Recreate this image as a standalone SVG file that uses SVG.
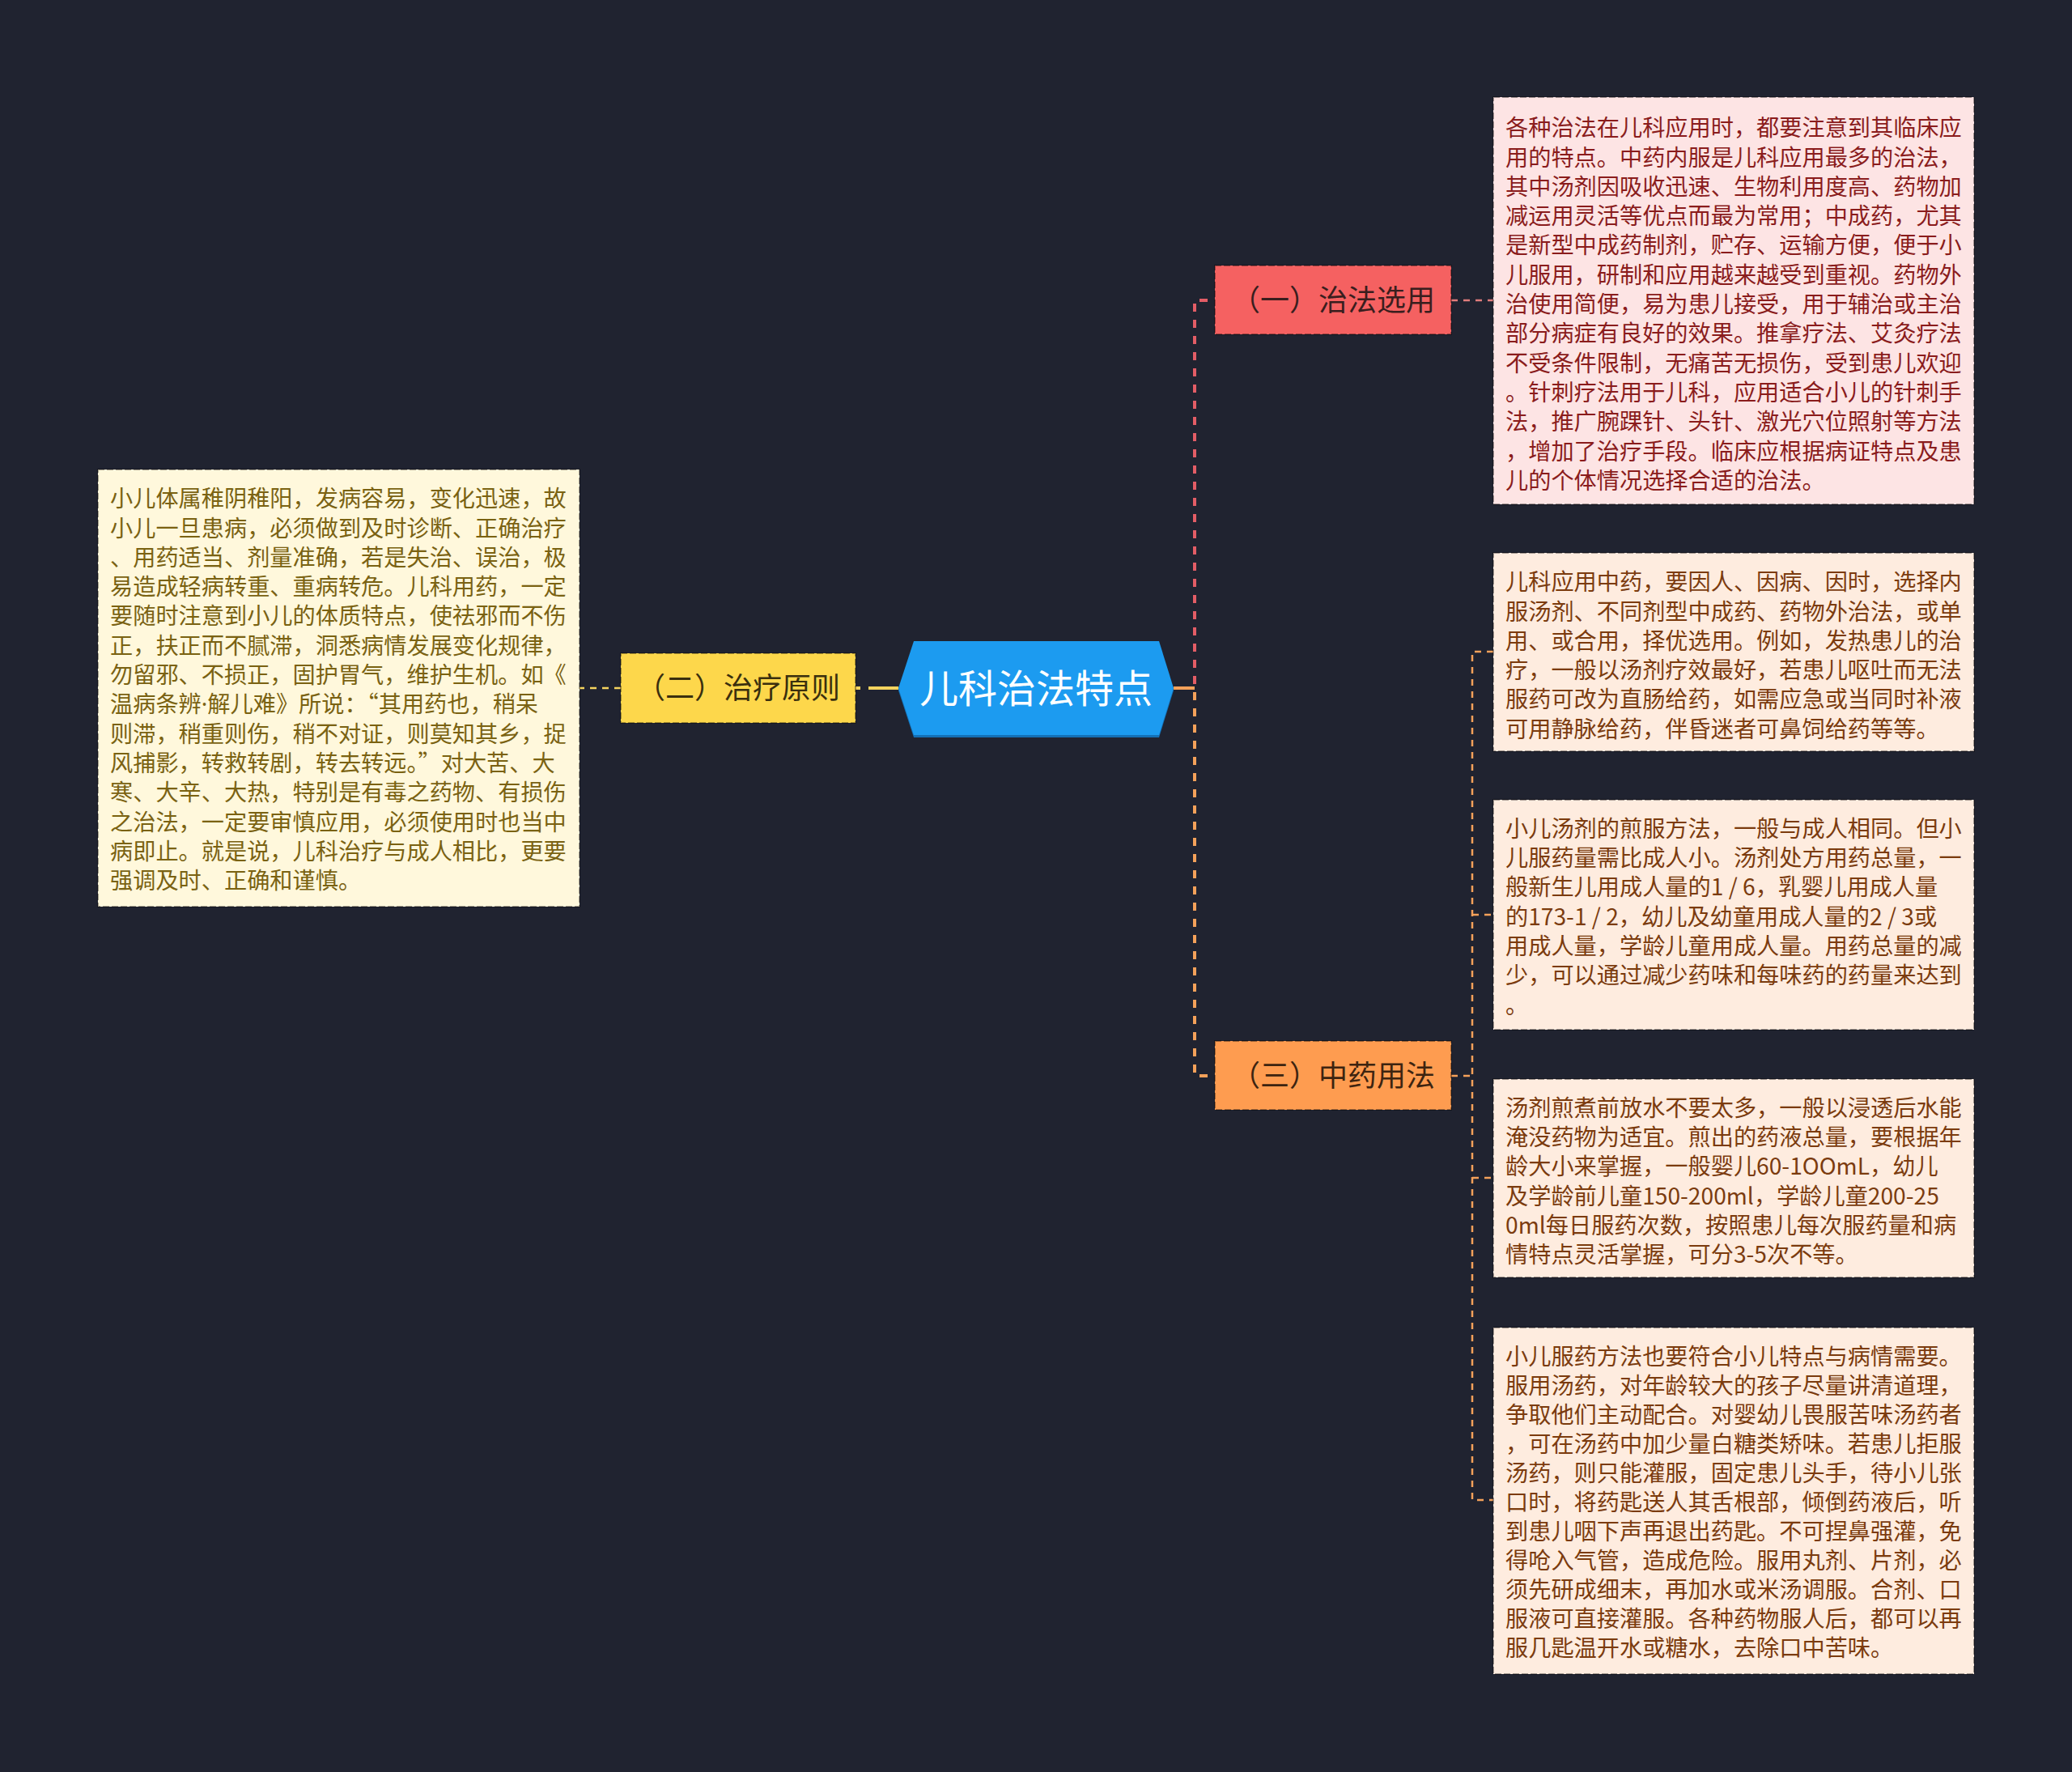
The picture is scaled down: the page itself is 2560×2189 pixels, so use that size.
<svg xmlns="http://www.w3.org/2000/svg" width="2560" height="2189" viewBox="0 0 2560 2189">
<style>
.bg{fill:#202330}
.ff{font-family:"Noto Sans CJK SC","Noto Sans",sans-serif}
.lat{font-family:"Noto Sans",sans-serif}
.note{stroke:#000;stroke-opacity:0.35;stroke-width:2;stroke-dasharray:8 3}
.lbl{font-size:36px;text-anchor:middle}
.body{font-size:28.2px}
.thick{fill:none;stroke-width:4}
.thin{fill:none;stroke-width:2.5;stroke-dasharray:8 7}
</style>
<rect class="bg" x="0" y="0" width="2560" height="2189"/>

<g id="connectors">
  <line x1="1110" y1="850" x2="1073" y2="850" stroke="#F4D35E" stroke-width="4"/>
  <line x1="1063" y1="850" x2="1057" y2="850" stroke="#F4D35E" stroke-width="4"/>
  <line x1="767" y1="850" x2="716" y2="850" class="thin" stroke="#F4D35E"/>
  <line x1="1450" y1="850" x2="1476" y2="850" stroke="#F4A15A" stroke-width="4"/>
  <path class="thick" d="M1492,371 H1476 V850" stroke="#E35D66" stroke-dasharray="10 10"/>
  <path class="thick" d="M1492,1329 H1476 V850" stroke="#F4A15A" stroke-dasharray="10 10"/>
  <path class="thin" d="M1793,371 H1845" stroke="#E07C7C"/>
  <path class="thin" d="M1793,1329 H1819" stroke="#F4A15A"/>
  <path class="thin" d="M1845,805 H1819 V1853 H1845" stroke="#F4A15A"/>
  <path class="thin" d="M1819,1130 H1845" stroke="#F4A15A"/>
  <path class="thin" d="M1819,1455 H1845" stroke="#F4A15A"/>
</g>

<g id="root">
  <polygon points="1110,853 1129,795 1432,795 1450,853 1432,911 1129,911" fill="#1470B5"/>
  <polygon points="1110,850 1129,792 1432,792 1450,850 1432,908 1129,908" fill="#1C9BF0"/>
  <text class="ff" x="1280" y="868" font-size="48" text-anchor="middle" fill="#FFFFFF">儿科治法特点</text>
</g>

<g id="node-1">
  <rect class="note" x="1501" y="328" width="292" height="85" fill="#F56161"/>
  <text class="ff lbl" x="1647" y="384" fill="#3A1E1E">（一）治法选用</text>
</g>

<g id="node-2">
  <rect class="note" x="767" y="807" width="290" height="86" fill="#FDD74B"/>
  <text class="ff lbl" x="912" y="863" fill="#3A2F0E">（二）治疗原则</text>
</g>

<g id="node-3">
  <rect class="note" x="1501" y="1286" width="292" height="85" fill="#FE9C50"/>
  <text class="ff lbl" x="1647" y="1342" fill="#3D2410">（三）中药用法</text>
</g>

<g id="note-left">
  <rect class="note" x="121" y="580" width="595" height="540" fill="#FFF8DC"/>
  <text class="ff body" fill="#7A6212">
    <tspan x="136" y="626.2">小儿体属稚阴稚阳，发病容易，变化迅速，故</tspan>
    <tspan x="136" y="662.5">小儿一旦患病，必须做到及时诊断、正确治疗</tspan>
    <tspan x="136" y="698.8">、用药适当、剂量准确，若是失治、误治，极</tspan>
    <tspan x="136" y="735.1">易造成轻病转重、重病转危。儿科用药，一定</tspan>
    <tspan x="136" y="771.4">要随时注意到小儿的体质特点，使祛邪而不伤</tspan>
    <tspan x="136" y="807.7">正，扶正而不腻滞，洞悉病情发展变化规律，</tspan>
    <tspan x="136" y="844">勿留邪、不损正，固护胃气，维护生机。如《</tspan>
    <tspan x="136" y="880.3">温病条辨<tspan class="lat">·</tspan>解儿难》所说：“其用药也，稍呆</tspan>
    <tspan x="136" y="916.6">则滞，稍重则伤，稍不对证，则莫知其乡，捉</tspan>
    <tspan x="136" y="952.9">风捕影，转救转剧，转去转远。”对大苦、大</tspan>
    <tspan x="136" y="989.2">寒、大辛、大热，特别是有毒之药物、有损伤</tspan>
    <tspan x="136" y="1025.5">之治法，一定要审慎应用，必须使用时也当中</tspan>
    <tspan x="136" y="1061.8">病即止。就是说，儿科治疗与成人相比，更要</tspan>
    <tspan x="136" y="1098.1">强调及时、正确和谨慎。</tspan>
  </text>
</g>

<g id="note-a">
  <rect class="note" x="1845" y="120" width="594" height="503" fill="#FDE4E4"/>
  <text class="ff body" fill="#8A1C1C">
    <tspan x="1860" y="168.2">各种治法在儿科应用时，都要注意到其临床应</tspan>
    <tspan x="1860" y="204.5">用的特点。中药内服是儿科应用最多的治法，</tspan>
    <tspan x="1860" y="240.8">其中汤剂因吸收迅速、生物利用度高、药物加</tspan>
    <tspan x="1860" y="277.1">减运用灵活等优点而最为常用；中成药，尤其</tspan>
    <tspan x="1860" y="313.4">是新型中成药制剂，贮存、运输方便，便于小</tspan>
    <tspan x="1860" y="349.7">儿服用，研制和应用越来越受到重视。药物外</tspan>
    <tspan x="1860" y="386">治使用简便，易为患儿接受，用于辅治或主治</tspan>
    <tspan x="1860" y="422.3">部分病症有良好的效果。推拿疗法、艾灸疗法</tspan>
    <tspan x="1860" y="458.6">不受条件限制，无痛苦无损伤，受到患儿欢迎</tspan>
    <tspan x="1860" y="494.9">。针刺疗法用于儿科，应用适合小儿的针刺手</tspan>
    <tspan x="1860" y="531.2">法，推广腕踝针、头针、激光穴位照射等方法</tspan>
    <tspan x="1860" y="567.5">，增加了治疗手段。临床应根据病证特点及患</tspan>
    <tspan x="1860" y="603.8">儿的个体情况选择合适的治法。</tspan>
  </text>
</g>

<g id="note-b">
  <rect class="note" x="1845" y="683" width="594" height="245" fill="#FEECDF"/>
  <text class="ff body" fill="#7B3B0E">
    <tspan x="1860" y="729.2">儿科应用中药，要因人、因病、因时，选择内</tspan>
    <tspan x="1860" y="765.5">服汤剂、不同剂型中成药、药物外治法，或单</tspan>
    <tspan x="1860" y="801.8">用、或合用，择优选用。例如，发热患儿的治</tspan>
    <tspan x="1860" y="838.1">疗，一般以汤剂疗效最好，若患儿呕吐而无法</tspan>
    <tspan x="1860" y="874.4">服药可改为直肠给药，如需应急或当同时补液</tspan>
    <tspan x="1860" y="910.7">可用静脉给药，伴昏迷者可鼻饲给药等等。</tspan>
  </text>
</g>

<g id="note-c">
  <rect class="note" x="1845" y="988" width="594" height="284" fill="#FEECDF"/>
  <text class="ff body" fill="#7B3B0E">
    <tspan x="1860" y="1033.7">小儿汤剂的煎服方法，一般与成人相同。但小</tspan>
    <tspan x="1860" y="1070">儿服药量需比成人小。汤剂处方用药总量，一</tspan>
    <tspan x="1860" y="1106.3">般新生儿用成人量的1 / 6，乳婴儿用成人量</tspan>
    <tspan x="1860" y="1142.6">的173-1 / 2，幼儿及幼童用成人量的2 / 3或</tspan>
    <tspan x="1860" y="1178.9">用成人量，学龄儿童用成人量。用药总量的减</tspan>
    <tspan x="1860" y="1215.2">少，可以通过减少药味和每味药的药量来达到</tspan>
    <tspan x="1860" y="1251.5">。</tspan>
  </text>
</g>

<g id="note-d">
  <rect class="note" x="1845" y="1333" width="594" height="245" fill="#FEECDF"/>
  <text class="ff body" fill="#7B3B0E">
    <tspan x="1860" y="1378.7">汤剂煎煮前放水不要太多，一般以浸透后水能</tspan>
    <tspan x="1860" y="1415">淹没药物为适宜。煎出的药液总量，要根据年</tspan>
    <tspan x="1860" y="1451.3">龄大小来掌握，一般婴儿60-1OOmL，幼儿</tspan>
    <tspan x="1860" y="1487.6">及学龄前儿童150-200ml，学龄儿童200-25</tspan>
    <tspan x="1860" y="1523.9">0ml每日服药次数，按照患儿每次服药量和病</tspan>
    <tspan x="1860" y="1560.2">情特点灵活掌握，可分3-5次不等。</tspan>
  </text>
</g>

<g id="note-e">
  <rect class="note" x="1845" y="1640" width="594" height="428" fill="#FEECDF"/>
  <text class="ff body" fill="#7B3B0E">
    <tspan x="1860" y="1685.7">小儿服药方法也要符合小儿特点与病情需要。</tspan>
    <tspan x="1860" y="1721.7">服用汤药，对年龄较大的孩子尽量讲清道理，</tspan>
    <tspan x="1860" y="1757.7">争取他们主动配合。对婴幼儿畏服苦味汤药者</tspan>
    <tspan x="1860" y="1793.7">，可在汤药中加少量白糖类矫味。若患儿拒服</tspan>
    <tspan x="1860" y="1829.7">汤药，则只能灌服，固定患儿头手，待小儿张</tspan>
    <tspan x="1860" y="1865.7">口时，将药匙送人其舌根部，倾倒药液后，听</tspan>
    <tspan x="1860" y="1901.7">到患儿咽下声再退出药匙。不可捏鼻强灌，免</tspan>
    <tspan x="1860" y="1937.7">得呛入气管，造成危险。服用丸剂、片剂，必</tspan>
    <tspan x="1860" y="1973.7">须先研成细末，再加水或米汤调服。合剂、口</tspan>
    <tspan x="1860" y="2009.7">服液可直接灌服。各种药物服人后，都可以再</tspan>
    <tspan x="1860" y="2045.7">服几匙温开水或糖水，去除口中苦味。</tspan>
  </text>
</g>
</svg>
